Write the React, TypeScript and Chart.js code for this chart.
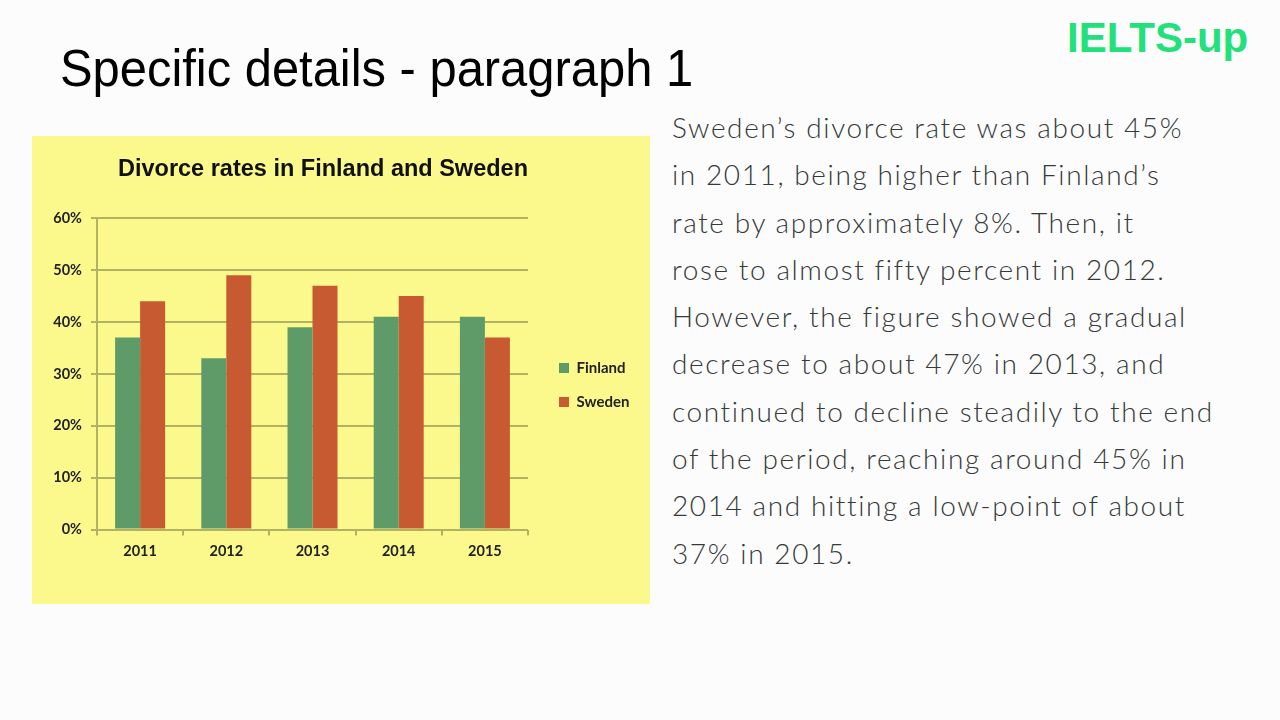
import React, { useEffect, useRef } from "react";
import { Chart, registerables } from "chart.js";

Chart.register(...registerables);

const categories = ["2011", "2012", "2013", "2014", "2015"];
const finland = [37, 33, 39, 41, 41];
const sweden = [44, 49, 47, 45, 37];
const yTicks = [0, 10, 20, 30, 40, 50, 60];
const seriesNames = ["Finland", "Sweden"];
const chartTitle = "Divorce rates in Finland and Sweden";

const paragraphLines = [
  "Sweden\u2019s divorce rate was about 45%",
  "in 2011, being higher than Finland\u2019s",
  "rate by approximately 8%. Then, it",
  "rose to almost fifty percent in 2012.",
  "However, the figure showed a gradual",
  "decrease to about 47% in 2013, and",
  "continued to decline steadily to the end",
  "of the period, reaching around 45% in",
  "2014 and hitting a low-point of about",
  "37% in 2015.",
];

const GRID = "#b2b264";
const TICK_FONT = { family: "Lato", size: 14.5, weight: "bold" as const };

function BarChart() {
  const ref = useRef<HTMLCanvasElement | null>(null);
  useEffect(() => {
    if (!ref.current) return;
    const chart = new Chart(ref.current, {
      type: "bar",
      data: {
        labels: categories,
        datasets: [
          { label: seriesNames[0], data: finland, backgroundColor: "#5e9b69" },
          { label: seriesNames[1], data: sweden, backgroundColor: "#c75a30" },
        ],
      },
      options: {
        animation: false,
        responsive: false,
        maintainAspectRatio: false,
        layout: { padding: { top: 0, left: 18, right: 12, bottom: 37 } },
        datasets: { bar: { categoryPercentage: 0.58, barPercentage: 1 } },
        plugins: {
          title: {
            display: true,
            fullSize: false,
            align: "end",
            text: chartTitle,
            color: "#111",
            font: { family: "'Liberation Sans'", size: 23.5, weight: "bold" },
            padding: { top: 19, bottom: 35 },
          },
          legend: {
            position: "right",
            fullSize: false,
            title: { display: true, text: "", font: { size: 10 }, padding: 5 },
            labels: {
              color: "#222",
              boxWidth: 10,
              boxHeight: 10,
              padding: 19,
              font: { family: "Lato", size: 15, weight: "bold" },
            },
          },
          tooltip: { enabled: false },
        },
        scales: {
          x: {
            grid: {
              display: true,
              offset: true,
              drawOnChartArea: false,
              drawTicks: true,
              tickLength: 6,
              color: GRID,
              lineWidth: 2,
            },
            border: { display: false },
            ticks: { color: "#222", padding: 7, font: TICK_FONT },
          },
          y: {
            min: 0,
            max: 60,
            afterBuildTicks: (s: any) => {
              s.ticks = yTicks.map((v) => ({ value: v }));
            },
            afterFit: (s: any) => {
              s.width = 47;
            },
            grid: { color: GRID, lineWidth: 2, tickLength: 6 },
            border: { display: true, color: GRID, width: 2 },
            ticks: {
              color: "#222",
              padding: 9,
              callback: (v: any) => v + "%",
              font: TICK_FONT,
            },
          },
          gap: {
            type: "linear",
            position: "right",
            display: true,
            grid: { display: false },
            border: { display: false },
            ticks: { display: false },
            afterFit: (s: any) => {
              s.width = 12;
            },
          },
        },
      },
    });
    return () => chart.destroy();
  }, []);
  return <canvas ref={ref} width={618} height={468} style={{ display: "block" }} />;
}

export default function App() {
  return (
    <div
      style={{
        position: "fixed",
        left: 0,
        top: 0,
        width: 1280,
        height: 720,
        background: "#fcfcfc",
        overflow: "hidden",
      }}
    >
      <div
        style={{
          position: "absolute",
          left: 60,
          top: 38,
          fontFamily: "'Liberation Sans', Arial, sans-serif",
          fontSize: 52,
          color: "#000",
          whiteSpace: "nowrap",
          lineHeight: "60px",
          transform: "scaleX(0.94)",
          transformOrigin: "left top",
        }}
      >
        Specific details - paragraph 1
      </div>
      <div
        style={{
          position: "absolute",
          left: 1067,
          top: 13,
          fontFamily: "'Liberation Sans', Arial, sans-serif",
          fontWeight: "bold",
          fontSize: 42,
          color: "#22e07a",
          whiteSpace: "nowrap",
          lineHeight: "50px",
        }}
      >
        IELTS-up
      </div>
      <div
        style={{
          position: "absolute",
          left: 32,
          top: 136,
          width: 618,
          height: 468,
          background: "#fbf98b",
        }}
      >
        <BarChart />
      </div>
      <div
        style={{
          position: "absolute",
          left: 672,
          top: 104,
          fontFamily: "Lato, sans-serif",
          fontWeight: 300,
          fontSize: 28,
          color: "#353a39",
          lineHeight: "47.3px",
          whiteSpace: "nowrap",
          letterSpacing: 1.6,
        }}
      >
        {paragraphLines.map((l, i) => (
          <div key={i}>{l}</div>
        ))}
      </div>
    </div>
  );
}
